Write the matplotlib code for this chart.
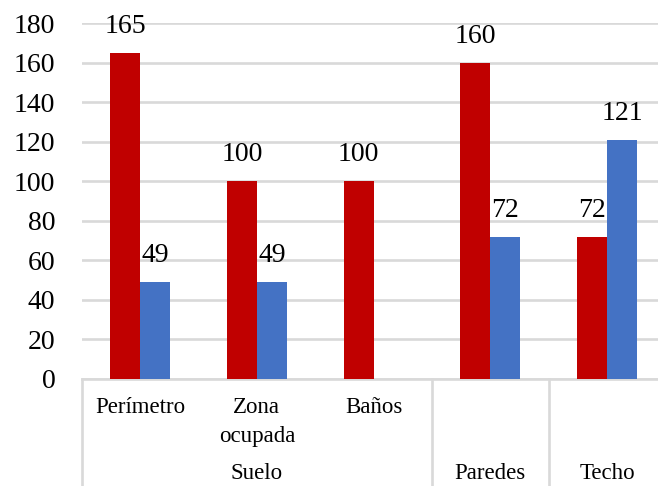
import matplotlib
matplotlib.use("Agg")
import matplotlib.pyplot as plt
import numpy as np

plt.rcParams["font.family"] = ["Liberation Serif", "DejaVu Serif"]

# categories and their group on the second axis level
categorias = ["Perímetro", "Zona\nocupada", "Baños", "", ""]
grupos = [("Suelo", 0, 2), ("Paredes", 3, 3), ("Techo", 4, 4)]
rojo = [165, 100, 100, 160, 72]
azul = [49, 49, 0, 72, 121]
yticks = [0, 20, 40, 60, 80, 100, 120, 140, 160, 180]

c_rojo = "#C00000"
c_azul = "#4472C4"
gris = "#D9D9D9"

fig = plt.figure(figsize=(6.58, 4.86), dpi=100)
ax = fig.add_axes([0.1242, 0.2202, 0.8872, 0.7319])

x = np.arange(len(rojo))
w = 0.257
b1 = ax.bar(x - w / 2, rojo, w, color=c_rojo, zorder=3)
b2 = ax.bar(x + w / 2, azul, w, color=c_azul, zorder=3)

for bars, vals in ((b1, rojo), (b2, azul)):
    for bar, v in zip(bars, vals):
        if v == 0:
            continue
        ax.annotate(str(v), (bar.get_x() + bar.get_width() / 2, v),
                    xytext=(0, 14.4), textcoords="offset points",
                    ha="center", va="baseline", fontsize=20, zorder=4)

ax.set_xlim(-0.5, len(rojo) - 0.5)
ax.set_ylim(0, 180)
ax.set_yticks(yticks)
ax.tick_params(axis="y", length=0, pad=19, labelsize=20)
ax.set_xticks([])
ax.yaxis.grid(True, color=gris, linewidth=1.9, zorder=0)
ax.set_axisbelow(True)
for s in ("top", "right", "left"):
    ax.spines[s].set_visible(False)
ax.spines["bottom"].set_color(gris)
ax.spines["bottom"].set_linewidth(1.9)

px = 0.72  # points per pixel at 100 dpi
tr = ax.get_xaxis_transform()

# first level labels (one text per line)
for i, lab in enumerate(categorias):
    for j, linea in enumerate(lab.split("\n")):
        if linea:
            ax.annotate(linea, (i, 0), xycoords=tr,
                        xytext=(0, -(34 + 28.7 * j) * px), textcoords="offset points",
                        ha="center", va="baseline", fontsize=16.5)

# second level labels and separators
for nombre, i0, i1 in grupos:
    ax.annotate(nombre, ((i0 + i1) / 2, 0), xycoords=tr,
                xytext=(0, -100 * px), textcoords="offset points",
                ha="center", va="baseline", fontsize=16.5)

for xs in (-0.5, 2.5, 3.5, 4.5):
    ax.plot([xs, xs], [0, -0.31], transform=tr, color=gris,
            linewidth=1.9, clip_on=False, zorder=1)

fig.savefig("out.png", dpi=100)
